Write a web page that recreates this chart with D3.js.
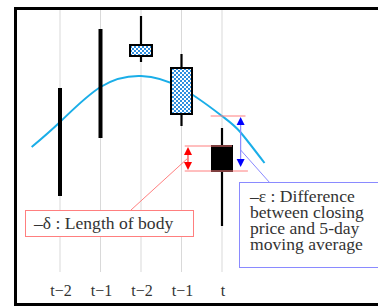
<!DOCTYPE html>
<html>
<head>
<meta charset="utf-8">
<script src="https://cdnjs.cloudflare.com/ajax/libs/d3/7.8.5/d3.min.js"></script>
<style>
  body { margin: 0; background: #fff; }
  text { font-family: "Liberation Serif", "DejaVu Serif", serif; fill: #333; white-space: pre; }
</style>
</head>
<body>
<svg id="chart" width="378" height="306"></svg>
<script>
// categories on the x axis
const labels = ['t\u22122', 't\u22121', 't\u22122', 't\u22121', 't'];
// candles: high, low, open, close (null = no body, only a bar)
const highs = [19.2, 25.1, 26.4, 22.6, 15.2];
const lows = [8.4, 14.2, 21.8, 15.4, 5.4];
const opens = [null, null, 23.5, 21.2, 13.4];
const closes = [null, null, 22.4, 16.6, 10.9];
// 5-day moving average (index, value)
const maIdx = [-0.7, 0, 1, 2, 3, 4, 4.45, 5.05];
const maVal = [13.3, 15.8, 19.3, 20.4, 19.2, 16.4, 14.8, 11.7];
// callout texts
const deltaText = '\u2013\u03b4 : Length of body';
const epsLines = ['\u2013\u03b5 : Difference', 'between closing', 'price and 5-day', 'moving average'];

const svg = d3.select('svg#chart');

const x = d3.scaleLinear().domain([0, 4]).range([60, 222]);
const y = d3.scaleLinear().domain([0, 27]).range([280, 10]);

// checkered fill
const defs = svg.append('defs');
const pat = defs.append('pattern').attr('id', 'check')
    .attr('width', 4).attr('height', 4).attr('patternUnits', 'userSpaceOnUse');
pat.append('rect').attr('width', 4).attr('height', 4).attr('fill', '#fff');
pat.append('rect').attr('width', 2).attr('height', 2).attr('fill', '#2f8fe0');
pat.append('rect').attr('x', 2).attr('y', 2).attr('width', 2).attr('height', 2).attr('fill', '#2f8fe0');

// grid lines
svg.append('g').selectAll('line').data(labels).enter().append('line')
    .attr('x1', (d, i) => x(i)).attr('x2', (d, i) => x(i))
    .attr('y1', 10).attr('y2', 272)
    .attr('stroke', '#d9d9d9').attr('stroke-width', 1);

// axis labels
svg.append('g').selectAll('text').data(labels).enter().append('text')
    .attr('x', (d, i) => x(i) + 1).attr('y', 296)
    .attr('text-anchor', 'middle').attr('font-size', 16)
    .text(d => d);

// moving average
const line = d3.line().x(d => x(d[0])).y(d => y(d[1])).curve(d3.curveNatural);
svg.append('path').datum(maIdx.map((v, i) => [v, maVal[i]]))
    .attr('d', line).attr('fill', 'none')
    .attr('stroke', '#1aaee8').attr('stroke-width', 2);

// candles
const bodyW = [0, 0, 22, 21, 20];
const candles = svg.append('g').selectAll('g').data(labels).enter().append('g');
candles.append('line')
    .attr('x1', (d, i) => x(i)).attr('x2', (d, i) => x(i))
    .attr('y1', (d, i) => y(highs[i])).attr('y2', (d, i) => y(lows[i]))
    .attr('stroke', '#000')
    .attr('stroke-width', (d, i) => opens[i] == null ? 4 : 2.2);
candles.each(function(d, i) {
    if (opens[i] == null) return;
    const top = Math.max(opens[i], closes[i]);
    const bot = Math.min(opens[i], closes[i]);
    d3.select(this).append('rect')
        .attr('x', x(i) - bodyW[i] / 2)
        .attr('y', y(top))
        .attr('width', bodyW[i])
        .attr('height', y(bot) - y(top))
        .attr('fill', i === 4 ? '#000' : 'url(#check)')
        .attr('stroke', '#000').attr('stroke-width', 2);
});

// annotation: red lines
const red = '#ff7f7f';
const ann = svg.append('g');
const iT = 4;
ann.append('line').attr('x1', x(3.08)).attr('x2', x(iT) + 10).attr('y1', y(opens[iT])).attr('y2', y(opens[iT]))
    .attr('stroke', red);
ann.append('line').attr('x1', x(3.08)).attr('x2', x(4.64)).attr('y1', y(closes[iT])).attr('y2', y(closes[iT]))
    .attr('stroke', red);
ann.append('line').attr('x1', x(3.72)).attr('x2', x(4.58)).attr('y1', y(maVal[5])).attr('y2', y(maVal[5]))
    .attr('stroke', red);

// arrows
function dblArrow(xp, y1, y2, lineCol, headCol) {
    ann.append('line').attr('x1', xp).attr('x2', xp).attr('y1', y1 + 6).attr('y2', y2 - 6)
        .attr('stroke', lineCol).attr('stroke-width', 1.2);
    ann.append('path').attr('d', `M${xp},${y1}L${xp - 4},${y1 + 8}L${xp + 4},${y1 + 8}Z`).attr('fill', headCol);
    ann.append('path').attr('d', `M${xp},${y2}L${xp - 4},${y2 - 8}L${xp + 4},${y2 - 8}Z`).attr('fill', headCol);
}
const redX = x(3.16);
const blueX = x(4.46);
dblArrow(redX, y(opens[iT]) + 1, y(closes[iT]) - 1, '#ff3b3b', '#ff0000');
dblArrow(blueX, y(maVal[5]) + 1, y(closes[iT]) - 4, '#8a8aff', '#0000ff');

// red callout
ann.append('line').attr('x1', 131).attr('y1', 210).attr('x2', redX).attr('y2', 158)
    .attr('stroke', red);
ann.append('rect').attr('x', 25.5).attr('y', 210.5).attr('width', 168).attr('height', 26)
    .attr('fill', '#fff').attr('stroke', red);
ann.append('text').attr('x', 34).attr('y', 228.5).attr('font-size', 17.6)
    .text(deltaText);

// blue callout
const blue = '#8a8aff';
ann.append('line').attr('x1', 270).attr('y1', 183).attr('x2', blueX).attr('y2', 150)
    .attr('stroke', blue);
ann.append('rect').attr('x', 239.5).attr('y', 182.5).attr('width', 160).attr('height', 85)
    .attr('fill', '#fff').attr('stroke', blue);
const blueText = ann.append('text').attr('x', 250).attr('y', 201.5).attr('font-size', 17.6);
blueText.selectAll('tspan').data(epsLines).enter().append('tspan')
    .attr('x', 250).attr('dy', (d, i) => i === 0 ? 0 : 16.2)
    .text(d => d);

// frame
svg.append('rect').attr('x', 15.5).attr('y', 8.5).attr('width', 400).attr('height', 296)
    .attr('fill', 'none').attr('stroke', '#000').attr('stroke-width', 3);
</script>
</body>
</html>
